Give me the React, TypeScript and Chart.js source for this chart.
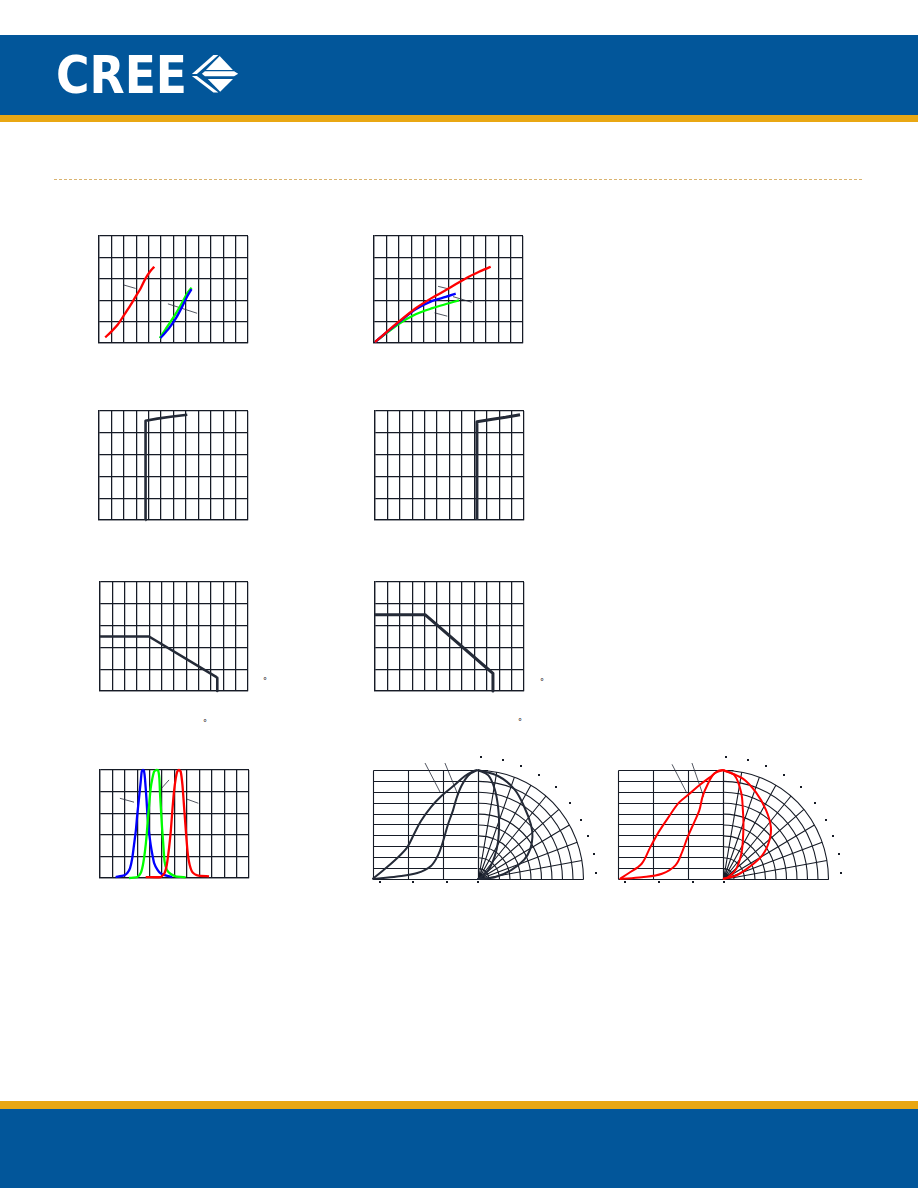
import React, { useEffect, useRef } from "react";
import { Chart, registerables } from "chart.js";

Chart.register(...registerables);

const GRID_COLOR = "#161b26";
const INK = "#242a37";
const RED = "#ff0000";
const GREEN = "#00ff00";
const BLUE = "#0000ff";

// ---------- Chart 1: forward current (mA) vs forward voltage (V) ----------
const c1RedV = [1.7, 1.79, 1.9, 2.0, 2.11, 2.19, 2.27, 2.35, 2.42, 2.49];
const c1RedI = [2.6, 5.1, 8.5, 12.9, 17.8, 21.7, 25.5, 30.2, 33.3, 35.6];
const c1GreenV = [2.58, 2.7, 2.81, 2.92, 3.02, 3.09];
const c1GreenI = [2.3, 7.7, 12.4, 17.8, 23.2, 25.9];
const c1BlueV = [2.59, 2.73, 2.84, 2.94, 3.02, 3.09];
const c1BlueI = [2.3, 7.0, 11.6, 17.0, 21.7, 25.2];
const c1Lead1V = [2.0, 2.19];
const c1Lead1I = [27.1, 25.5];
const c1Lead2V = [2.71, 3.18];
const c1Lead2I = [18.3, 13.9];

// ---------- Chart 2: relative intensity (%) vs forward current (mA) ----------
const c2RedI = [0.4, 10.1, 16.8, 23.5, 30.2, 36.9, 42.3, 47.0];
const c2RedL = [2.3, 50.3, 81.3, 106.0, 127.7, 150.9, 166.4, 178.0];
const c2BlueI = [0.4, 10.1, 16.8, 23.5, 28.9, 32.9];
const c2BlueL = [2.3, 48.8, 78.9, 98.3, 107.6, 115.3];
const c2GreenI = [0.4, 10.1, 16.8, 23.5, 30.2, 34.2];
const c2GreenL = [2.3, 44.9, 67.3, 81.3, 92.9, 99.8];
const c2Lead1X = [25.8, 30.2];
const c2Lead1Y = [132.4, 126.2];
const c2Lead2X = [31.8, 39.3];
const c2Lead2Y = [108.4, 95.2];
const c2Lead3X = [24.4, 29.5];
const c2Lead3Y = [70.4, 62.7];

// ---------- Chart 3 / Chart 4 ----------
const c3X = [37.3, 37.5, 47.0, 57.7, 71.1];
const c3Y = [0, 91.1, 93.0, 94.8, 96.6];
const c4X = [82.1, 82.1, 94.5, 105.2, 116.8];
const c4Y = [0, 90.2, 92.4, 94.2, 96.6];

// ---------- Chart 5 / Chart 6: derating ----------
const c5T = [0, 39.7, 93.8, 95.1, 95.1];
const c5I = [25, 25, 6.6, 6.0, 0];
const c6T = [0, 40.3, 92.3, 95.0, 95.0];
const c6I = [35, 35, 9.4, 8.1, 0];

// ---------- Chart 7: spectrum ----------
const c7BlueW = [363, 397, 410, 421, 430, 437, 444, 450, 457, 464, 468, 473, 477, 481, 487, 491, 497, 504, 511, 518, 531, 544, 564, 591];
const c7BlueR = [0.009, 0.025, 0.046, 0.092, 0.185, 0.308, 0.431, 0.585, 0.738, 0.892, 0.985, 1.0, 0.994, 0.923, 0.738, 0.585, 0.431, 0.308, 0.215, 0.138, 0.077, 0.043, 0.025, 0.009];
const c7GreenW = [417, 450, 464, 473, 481, 488, 493, 499, 504, 511, 518, 527, 534, 539, 542, 546, 550, 555, 560, 569, 585, 605, 645];
const c7GreenR = [0.0, 0.009, 0.046, 0.123, 0.246, 0.4, 0.554, 0.708, 0.831, 0.923, 0.985, 1.0, 0.997, 0.923, 0.769, 0.615, 0.462, 0.308, 0.154, 0.077, 0.037, 0.015, 0.006];
const c7RedW = [484, 544, 560, 569, 578, 585, 591, 598, 605, 611, 618, 625, 632, 638, 644, 649, 654, 661, 672, 692, 739];
const c7RedR = [0.009, 0.009, 0.046, 0.123, 0.277, 0.431, 0.615, 0.8, 0.923, 0.985, 1.0, 0.985, 0.862, 0.677, 0.492, 0.338, 0.215, 0.123, 0.055, 0.025, 0.015];
const c7Lead1W = [380, 437];
const c7Lead1R = [0.738, 0.702];
const c7Lead2W = [548, 578];
const c7Lead2R = [0.831, 0.908];
const c7Lead3W = [648, 696];
const c7Lead3R = [0.732, 0.692];

// ---------- Radiation patterns ----------
const polarRectAngleTicks = [-90, -60, -30, 0];
const polarIntensityTicks = [0, 0.1, 0.2, 0.3, 0.4, 0.5, 0.6, 0.7, 0.8, 0.9, 1.0];
const polarRingRadii = [0.1, 0.2, 0.3, 0.4, 0.5, 0.6, 0.7, 0.8, 0.9, 1.0];
const polarSpokeAngles = [0, 10, 20, 30, 40, 50, 60, 70, 80, 90];
const polarLabelDotAngles = [1, 12, 21, 31, 41, 51, 61, 69, 78, 87];
const polarBottomDotAngles = [-84, -55, -26, 0.5];

const p1RectBroadA = [-90, -80.7, -69, -60.3, -54.5, -48.6, -39.9, -31.2, -21, -10.8, -3.5, 0];
const p1RectBroadI = [0, 0.08, 0.19, 0.29, 0.41, 0.53, 0.66, 0.76, 0.85, 0.945, 0.99, 1];
const p1RectNarrowA = [-90, -69, -51.6, -39.9, -33.5, -29.7, -25.3, -21, -18, -13.7, -7.9, 0];
const p1RectNarrowI = [0, 0.023, 0.055, 0.12, 0.226, 0.34, 0.5, 0.63, 0.74, 0.855, 0.95, 1];
const p1PolarBroadA = [0, 11.7, 23.2, 34, 45.5, 53.5, 61.4, 68.3, 75.8, 84.5, 90];
const p1PolarBroadI = [1, 0.965, 0.895, 0.797, 0.713, 0.651, 0.572, 0.479, 0.331, 0.166, 0];
const p1PolarNarrowA = [0, 6.2, 11.3, 16.5, 22.4, 30, 38, 51.8, 68, 90];
const p1PolarNarrowI = [1, 0.957, 0.839, 0.69, 0.54, 0.39, 0.267, 0.131, 0.027, 0];
const p1Lead1A = [-45, -32.1];
const p1Lead1I = [1.064, 0.798];
const p1Lead2A = [-27.9, -16.7];
const p1Lead2I = [1.064, 0.771];

const p2RectBroadA = [-88.5, -81.3, -69.7, -62.4, -55.2, -46.5, -37.8, -29, -20.3, -11.6, -4.4, 0];
const p2RectBroadI = [0, 0.05, 0.14, 0.29, 0.43, 0.57, 0.7, 0.78, 0.86, 0.93, 0.99, 1];
const p2RectNarrowA = [-88.5, -69.7, -52.3, -40.6, -34.8, -30.5, -24.7, -20.3, -17.4, -13.1, -7.3, 0];
const p2RectNarrowI = [0, 0.016, 0.048, 0.127, 0.254, 0.38, 0.52, 0.63, 0.76, 0.87, 0.97, 1];
const p2PolarBroadA = [0, 11.6, 21.6, 32.8, 43.8, 51.6, 59.5, 66.2, 75.7, 90];
const p2PolarBroadI = [1, 0.94, 0.854, 0.755, 0.659, 0.562, 0.438, 0.275, 0.13, 0];
const p2PolarNarrowA = [0, 6.6, 12.3, 16.6, 21, 28.4, 37.9, 53, 71, 90];
const p2PolarNarrowI = [1, 0.958, 0.812, 0.662, 0.544, 0.397, 0.281, 0.158, 0.05, 0];
const p2Lead1A = [-43.7, -30.9];
const p2Lead1I = [1.052, 0.786];
const p2Lead2A = [-26.6, -16.6];
const p2Lead2I = [1.064, 0.755];

type Series = { xs: number[]; ys: number[]; color: string; width: number; tension?: number; order?: number };

const pts = (xs: number[], ys: number[]) => xs.map((x, i) => ({ x, y: ys[i] }));

const GRID_W = 1.25;

const axis = (min: number, max: number, divisions: number) => ({
  type: "linear" as const,
  min,
  max,
  ticks: { display: false, count: divisions + 1 },
  grid: { color: GRID_COLOR, lineWidth: GRID_W, drawTicks: false },
  border: { display: true, color: GRID_COLOR, width: GRID_W },
});

const toDataset = (s: Series) => ({
  data: pts(s.xs, s.ys),
  showLine: true,
  borderColor: s.color,
  backgroundColor: s.color,
  borderWidth: s.width,
  pointRadius: 0,
  tension: s.tension ?? 0,
  fill: false,
  order: s.order ?? 0,
  borderJoinStyle: "round" as const,
  clip: false as const,
});

function GridChart(props: {
  left: number; top: number; width: number; height: number;
  x: [number, number, number]; y: [number, number, number]; series: Series[];
}) {
  const { left, top, width, height, x, y, series } = props;
  const ref = useRef<HTMLCanvasElement>(null);
  const pad = 2;
  useEffect(() => {
    const chart = new Chart(ref.current!, {
      type: "scatter",
      data: { datasets: series.map(toDataset) as any },
      options: {
        animation: false,
        responsive: false,
        maintainAspectRatio: false,
        events: [],
        layout: { padding: pad },
        plugins: { legend: { display: false }, tooltip: { enabled: false } },
        scales: { x: axis(x[0], x[1], x[2]), y: axis(y[0], y[1], y[2]) } as any,
      },
    });
    return () => chart.destroy();
  }, []);
  return (
    <canvas
      ref={ref}
      width={width + 2 * pad}
      height={height + 2 * pad}
      style={{ position: "absolute", left: left - pad, top: top - pad, width: width + 2 * pad, height: height + 2 * pad }}
    />
  );
}

type Curve = { a: number[]; i: number[] };

function PolarChart(props: {
  cx: number; cy: number; rx: number; ry: number;
  left: number; top: number; width: number; height: number;
  color: string; rect: Curve[]; polar: Curve[]; leaders: Curve[];
}) {
  const { cx, cy, rx, ry, left, top, width, height, color, rect, polar, leaders } = props;
  const ref = useRef<HTMLCanvasElement>(null);
  useEffect(() => {
    const gridPlugin = {
      id: "polarGrid",
      beforeDatasetsDraw(chart: any) {
        const { ctx } = chart;
        const sx = chart.scales.x;
        const sy = chart.scales.y;
        const X = (v: number) => sx.getPixelForValue(v);
        const Y = (v: number) => sy.getPixelForValue(v);
        const al = (p: number) => Math.round(p) + 0.5;
        ctx.save();
        ctx.strokeStyle = GRID_COLOR;
        ctx.lineWidth = 1.1;
        ctx.beginPath();
        for (const f of polarIntensityTicks) {
          const yy = al(Y(f));
          ctx.moveTo(al(X(-1)), yy);
          ctx.lineTo(f === 0 ? X(1) + 0.5 : f === 1 ? X(0.1) : X(0), yy);
        }
        for (const a of polarRectAngleTicks) {
          const xx = al(X(a / 90));
          ctx.moveTo(xx, al(Y(0)));
          ctx.lineTo(xx, al(Y(1)));
        }
        ctx.stroke();
        const ox = al(X(0));
        const oy = al(Y(0));
        const rpx = X(1) - X(0);
        const rpy = Y(0) - Y(1);
        for (const r of polarRingRadii) {
          ctx.beginPath();
          ctx.ellipse(ox, oy, rpx * r, rpy * r, 0, -Math.PI / 2, 0);
          ctx.stroke();
        }
        ctx.beginPath();
        for (const a of polarSpokeAngles) {
          const t = (a * Math.PI) / 180;
          ctx.moveTo(ox, oy);
          ctx.lineTo(ox + rpx * Math.sin(t), oy - rpy * Math.cos(t));
        }
        ctx.stroke();
        ctx.fillStyle = GRID_COLOR;
        for (const a of polarLabelDotAngles) {
          const t = (a * Math.PI) / 180;
          const px = ox + rpx * 1.12 * Math.sin(t);
          const py = oy - rpy * 1.12 * Math.cos(t);
          ctx.fillRect(Math.round(px) - 1, Math.round(py) - 1, 2, 2);
        }
        for (const a of polarBottomDotAngles) {
          const px = X(a / 90);
          const py = Y(-0.03);
          ctx.fillRect(Math.round(px) - 1, Math.round(py) - 1, 2, 2);
        }
        ctx.restore();
      },
    };
    const rad = (d: number) => (d * Math.PI) / 180;
    const datasets = [
      ...leaders.map((c) => toDataset({ xs: c.a.map((v) => v / 90), ys: c.i, color: INK, width: 0.8, order: 5 })),
      ...rect.map((c) => toDataset({ xs: c.a.map((v) => v / 90), ys: c.i, color, width: 2, tension: 0.35, order: 1 })),
      ...polar.map((c) =>
        toDataset({
          xs: c.a.map((v, k) => c.i[k] * Math.sin(rad(v))),
          ys: c.a.map((v, k) => c.i[k] * Math.cos(rad(v))),
          color,
          width: 2,
          tension: 0.35,
          order: 1,
        })
      ),
    ];
    const chart = new Chart(ref.current!, {
      type: "scatter",
      data: { datasets: datasets as any },
      options: {
        animation: false,
        responsive: false,
        maintainAspectRatio: false,
        events: [],
        layout: { padding: 0 },
        plugins: { legend: { display: false }, tooltip: { enabled: false } },
        scales: {
          x: { type: "linear", display: false, min: (left - cx) / rx, max: (left + width - cx) / rx },
          y: { type: "linear", display: false, min: (cy - (top + height)) / ry, max: (cy - top) / ry },
        },
      },
      plugins: [gridPlugin],
    });
    return () => chart.destroy();
  }, []);
  return (
    <canvas
      ref={ref}
      width={width}
      height={height}
      style={{ position: "absolute", left, top, width, height }}
    />
  );
}

function Deg({ x, y }: { x: number; y: number }) {
  return (
    <span
      style={{
        position: "absolute",
        left: x - 2,
        top: y - 3,
        fontSize: 8,
        lineHeight: "8px",
        fontFamily: "'DejaVu Sans', sans-serif",
        color: "#111",
      }}
    >
      °
    </span>
  );
}

function Logo() {
  return (
    <svg style={{ position: "absolute", left: 55, top: 43 }} width={190} height={64} viewBox="0 0 190 64">
      <text
        x="1"
        y="49.5"
        fill="#fff"
        fontFamily="'DejaVu Sans Condensed', 'DejaVu Sans', sans-serif"
        fontWeight="bold"
        fontSize="51"
        textLength="131"
        lengthAdjust="spacingAndGlyphs"
      >
        CREE
      </text>
      <g transform="translate(136.4,12)" fill="#fff">
        <polygon points="22,0 27,0 5.5,19 0.5,19" />
        <polygon points="0.5,21 5.5,21 27,37.5 22,37.5" />
        <polygon points="28.3,1 14.5,15 41.5,15" />
        <polygon points="13.5,16.3 42.7,16.3 46.8,18.8 42.7,21.3 13.5,21.3 10.5,18.8" />
        <polygon points="16.4,24 41.6,24 28.8,36.8" />
      </g>
    </svg>
  );
}

export default function App() {
  const BLUE_BAND = "#02569a";
  const GOLD = "#e9a713";
  return (
    <div style={{ position: "absolute", left: 0, top: 0, width: 918, height: 1188, background: "#fff", overflow: "hidden" }}>
      <div style={{ position: "absolute", left: 0, top: 35, width: 918, height: 80, background: BLUE_BAND }} />
      <div style={{ position: "absolute", left: 0, top: 115, width: 918, height: 7, background: GOLD }} />
      <Logo />
      <div
        style={{
          position: "absolute",
          left: 54,
          top: 179,
          width: 808,
          height: 1,
          background: "repeating-linear-gradient(90deg, #d9b370 0 3px, transparent 3px 5px)",
        }}
      />

      <GridChart
        left={99} top={236} width={149} height={107}
        x={[1.6, 4.0, 12]} y={[0, 50, 5]}
        series={[
          { xs: c1Lead1V, ys: c1Lead1I, color: INK, width: 0.8, order: 9 },
          { xs: c1Lead2V, ys: c1Lead2I, color: INK, width: 0.8, order: 9 },
          { xs: c1RedV, ys: c1RedI, color: RED, width: 2.3, tension: 0.3, order: 3 },
          { xs: c1GreenV, ys: c1GreenI, color: GREEN, width: 2.3, tension: 0.3, order: 2 },
          { xs: c1BlueV, ys: c1BlueI, color: BLUE, width: 2.3, tension: 0.3, order: 1 },
        ]}
      />
      <GridChart
        left={374} top={236} width={149} height={107}
        x={[0, 60, 12]} y={[0, 250, 5]}
        series={[
          { xs: c2Lead1X, ys: c2Lead1Y, color: INK, width: 0.8, order: 9 },
          { xs: c2Lead2X, ys: c2Lead2Y, color: INK, width: 0.8, order: 9 },
          { xs: c2Lead3X, ys: c2Lead3Y, color: INK, width: 0.8, order: 9 },
          { xs: c2GreenI, ys: c2GreenL, color: GREEN, width: 2.3, tension: 0.3, order: 3 },
          { xs: c2BlueI, ys: c2BlueL, color: BLUE, width: 2.3, tension: 0.3, order: 2 },
          { xs: c2RedI, ys: c2RedL, color: RED, width: 2.3, tension: 0.3, order: 1 },
        ]}
      />
      <GridChart
        left={99} top={411} width={149} height={109}
        x={[0, 120, 12]} y={[0, 100, 5]}
        series={[{ xs: c3X, ys: c3Y, color: INK, width: 2.6 }]}
      />
      <GridChart
        left={375} top={411} width={149} height={109}
        x={[0, 120, 12]} y={[0, 100, 5]}
        series={[{ xs: c4X, ys: c4Y, color: INK, width: 3 }]}
      />
      <GridChart
        left={100} top={582} width={148} height={109}
        x={[0, 120, 12]} y={[0, 50, 5]}
        series={[{ xs: c5T, ys: c5I, color: INK, width: 2.6 }]}
      />
      <GridChart
        left={375} top={582} width={149} height={109}
        x={[0, 120, 12]} y={[0, 50, 5]}
        series={[{ xs: c6T, ys: c6I, color: INK, width: 3 }]}
      />
      <Deg x={265} y={681} />
      <Deg x={205} y={723} />
      <Deg x={542} y={682} />
      <Deg x={520} y={722} />
      <GridChart
        left={100} top={770} width={149} height={108}
        x={[300, 900, 12]} y={[0, 1, 5]}
        series={[
          { xs: c7Lead1W, ys: c7Lead1R, color: INK, width: 0.8, order: 9 },
          { xs: c7Lead2W, ys: c7Lead2R, color: INK, width: 0.8, order: 9 },
          { xs: c7Lead3W, ys: c7Lead3R, color: INK, width: 0.8, order: 9 },
          { xs: c7BlueW, ys: c7BlueR, color: BLUE, width: 2.3, tension: 0.2, order: 3 },
          { xs: c7GreenW, ys: c7GreenR, color: GREEN, width: 2.3, tension: 0.2, order: 2 },
          { xs: c7RedW, ys: c7RedR, color: RED, width: 2.3, tension: 0.2, order: 1 },
        ]}
      />
      <PolarChart
        cx={477.5} cy={879} rx={105} ry={109}
        left={360} top={748} width={250} height={142}
        color={INK}
        rect={[{ a: p1RectBroadA, i: p1RectBroadI }, { a: p1RectNarrowA, i: p1RectNarrowI }]}
        polar={[{ a: p1PolarBroadA, i: p1PolarBroadI }, { a: p1PolarNarrowA, i: p1PolarNarrowI }]}
        leaders={[{ a: p1Lead1A, i: p1Lead1I }, { a: p1Lead2A, i: p1Lead2I }]}
      />
      <PolarChart
        cx={723} cy={879} rx={105} ry={109}
        left={606} top={748} width={250} height={142}
        color={RED}
        rect={[{ a: p2RectBroadA, i: p2RectBroadI }, { a: p2RectNarrowA, i: p2RectNarrowI }]}
        polar={[{ a: p2PolarBroadA, i: p2PolarBroadI }, { a: p2PolarNarrowA, i: p2PolarNarrowI }]}
        leaders={[{ a: p2Lead1A, i: p2Lead1I }, { a: p2Lead2A, i: p2Lead2I }]}
      />

      <div style={{ position: "absolute", left: 0, top: 1101, width: 918, height: 8, background: GOLD }} />
      <div style={{ position: "absolute", left: 0, top: 1109, width: 918, height: 79, background: BLUE_BAND }} />
    </div>
  );
}
